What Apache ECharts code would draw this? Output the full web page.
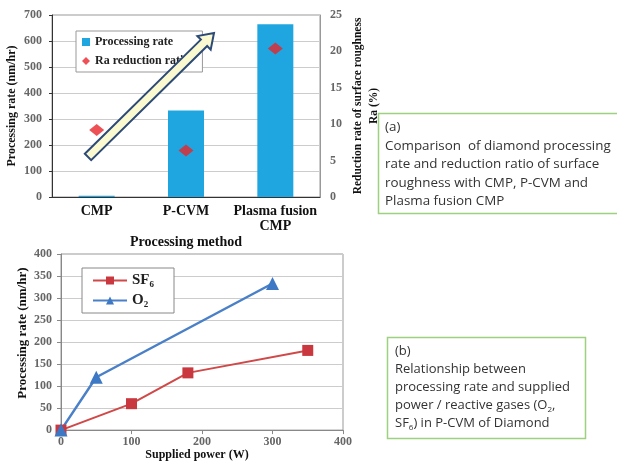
<!DOCTYPE html>
<html><head><meta charset="utf-8">
<script src="https://cdn.jsdelivr.net/npm/echarts@6/dist/echarts.min.js"></script>
<style>html,body{margin:0;padding:0;background:#fff}#c{width:617px;height:462px}</style>
</head><body><div id="c"></div>
<script>
// Chart (a)
var methods = ['CMP', 'P-CVM', 'Plasma fusion\nCMP'];
var processingRate = [5, 333, 664];
var raReduction = [9.2, 6.4, 20.4];
// Chart (b)
var sf6Data = [[0, 0], [100, 60], [180, 130], [350, 181]];
var o2Data = [[0, 0], [50, 120], [300, 333]];

var serif = 'Liberation Serif';
var tick = {fontFamily: serif, fontSize: 12, color: '#666', fontWeight: 'bold'};
var chart = echarts.init(document.getElementById('c'));

// block arrow annotation
function arrowPts(x0, y0, x1, y1, hw, hh, hl) {
  var dx = x1 - x0, dy = y1 - y0, L = Math.sqrt(dx*dx + dy*dy);
  var ux = dx / L, uy = dy / L, nx = -uy, ny = ux;
  var Nx = x1 - ux*hl, Ny = y1 - uy*hl;
  return [[x0 - nx*hw, y0 - ny*hw], [Nx - nx*hw, Ny - ny*hw], [Nx - nx*hh, Ny - ny*hh], [x1, y1],
          [Nx + nx*hh, Ny + ny*hh], [Nx + nx*hw, Ny + ny*hw], [x0 + nx*hw, y0 + ny*hw]];
}

chart.setOption({
  backgroundColor: '#fff',
  animation: false,
  grid: [
    {left: 52, top: 15, width: 268, height: 182, show: true, borderColor: '#999', borderWidth: 1},
    {left: 61, top: 254, width: 282, height: 180, show: true, borderColor: '#999', borderWidth: 1}
  ],
  legend: [
    {
      orient: 'vertical', left: 76, top: 31,
      padding: [5, 13, 5, 6], itemGap: 7, itemWidth: 8, itemHeight: 8,
      backgroundColor: '#fff', borderColor: '#999', borderWidth: 1, borderRadius: 0,
      textStyle: {fontFamily: serif, fontSize: 12, fontWeight: 'bold', color: '#222'},
      data: [{name: 'Processing rate', icon: 'rect'}, {name: 'Ra reduction ratio', icon: 'diamond'}]
    },
    {
      orient: 'vertical', left: 82, top: 268,
      padding: [5, 20, 5, 10], itemGap: 5, itemWidth: 34, itemHeight: 10,
      backgroundColor: '#fff', borderColor: '#888', borderWidth: 1, borderRadius: 0,
      textStyle: {fontFamily: serif, fontSize: 15, fontWeight: 'bold', color: '#222'},
      data: ['SF₆', 'O₂']
    }
  ],
  xAxis: [
    {
      type: 'category', gridIndex: 0, data: methods,
      axisLine: {lineStyle: {color: '#333'}}, axisTick: {show: false},
      axisLabel: {interval: 0, fontFamily: serif, fontSize: 14, fontWeight: 'bold', color: '#111', lineHeight: 15, margin: 7},
      name: 'Processing method', nameLocation: 'middle', nameGap: 26,
      nameTextStyle: {fontFamily: serif, fontSize: 14, fontWeight: 'bold', color: '#111'}
    },
    {
      type: 'value', gridIndex: 1, min: 0, max: 400, interval: 100,
      axisLine: {lineStyle: {color: '#888'}}, axisTick: {show: true, length: 4, lineStyle: {color: '#888'}},
      splitLine: {show: false},
      axisLabel: Object.assign({margin: 6}, tick),
      name: 'Supplied power (W)', nameLocation: 'middle', nameGap: 16,
      nameTextStyle: {fontFamily: serif, fontSize: 12, fontWeight: 'bold', color: '#111', padding: [0, 10, 0, 0]}
    }
  ],
  yAxis: [
    {
      type: 'value', gridIndex: 0, min: 0, max: 700, interval: 100,
      axisLine: {show: true, lineStyle: {color: '#333'}}, axisTick: {show: true, length: 3, lineStyle: {color: '#333'}},
      splitLine: {lineStyle: {color: '#ccc'}},
      axisLabel: Object.assign({margin: 10}, tick),
      name: 'Processing rate (nm/hr)', nameLocation: 'middle', nameGap: 34,
      nameTextStyle: {fontFamily: serif, fontSize: 12, fontWeight: 'bold', color: '#111'}
    },
    {
      type: 'value', gridIndex: 0, min: 0, max: 25, interval: 5, position: 'right',
      axisLine: {show: true, lineStyle: {color: '#999'}}, axisTick: {show: false},
      splitLine: {show: false},
      axisLabel: Object.assign({margin: 10}, tick),
      name: 'Reduction rate of surface roughness\nRa (%)', nameLocation: 'middle', nameGap: 30, nameRotate: 90,
      nameTextStyle: {fontFamily: serif, fontSize: 11.5, fontWeight: 'bold', color: '#111', lineHeight: 16}
    },
    {
      type: 'value', gridIndex: 1, min: 0, max: 400, interval: 50,
      axisLine: {show: true, lineStyle: {color: '#888'}}, axisTick: {show: true, length: 4, lineStyle: {color: '#888'}},
      splitLine: {lineStyle: {color: '#ccc'}},
      axisLabel: Object.assign({margin: 9}, tick),
      name: 'Processing rate (nm/hr)', nameLocation: 'middle', nameGap: 32,
      nameTextStyle: {fontFamily: serif, fontSize: 13, fontWeight: 'bold', color: '#111', padding: [0, 0, 0, 18]}
    }
  ],
  series: [
    {
      name: 'Processing rate', type: 'bar', xAxisIndex: 0, yAxisIndex: 0,
      data: processingRate, barWidth: 36, itemStyle: {color: '#1fa6e1'}
    },
    {
      name: 'Ra reduction ratio', type: 'scatter', xAxisIndex: 0, yAxisIndex: 1,
      data: raReduction, symbol: 'diamond', symbolSize: [15, 12], itemStyle: {color: '#e8252a'}
    },
    {
      name: 'SF₆', type: 'line', xAxisIndex: 1, yAxisIndex: 2, data: sf6Data,
      symbol: 'rect', symbolSize: 11, lineStyle: {color: '#d04848', width: 2},
      itemStyle: {color: '#c9383f'}
    },
    {
      name: 'O₂', type: 'line', xAxisIndex: 1, yAxisIndex: 2, data: o2Data,
      symbol: 'triangle', symbolSize: 13, lineStyle: {color: '#4a80c8', width: 2.5},
      itemStyle: {color: '#3d78c4'}
    }
  ],
  graphic: [
    {
      type: 'polygon', z: 100,
      shape: {points: arrowPts(88, 157, 214, 33, 4.5, 9.5, 14)},
      style: {fill: '#fbf9cf', stroke: '#2c4a78', lineWidth: 2}
    },
    {
      type: 'rect', z: 100, shape: {x: 378.5, y: 113.5, width: 260, height: 100},
      style: {fill: '#fff', stroke: '#9dd17f', lineWidth: 1.5}
    },
    {
      type: 'text', z: 101, x: 385, y: 118,
      style: {
        text: '(a)\nComparison  of diamond processing\nrate and reduction ratio of surface\nroughness with CMP, P-CVM and\nPlasma fusion CMP',
        font: '13.4px "Open Sans"', fill: '#333', lineHeight: 18.5
      }
    },
    {
      type: 'rect', z: 100, shape: {x: 387.5, y: 337.5, width: 198, height: 101},
      style: {fill: '#fff', stroke: '#9dd17f', lineWidth: 1.5}
    },
    {
      type: 'text', z: 101, x: 395, y: 342,
      style: {
        text: '(b)\nRelationship between\nprocessing rate and supplied\npower / reactive gases (O{s|2},\nSF{s|6}) in P-CVM of Diamond',
        font: '13px "Open Sans"', fill: '#333', lineHeight: 18,
        rich: {s: {font: '8px "Open Sans"', fill: '#333', verticalAlign: 'bottom', lineHeight: 18, padding: [6, 0, 0, 0]}}
      }
    }
  ]
});
</script>
</body></html>
